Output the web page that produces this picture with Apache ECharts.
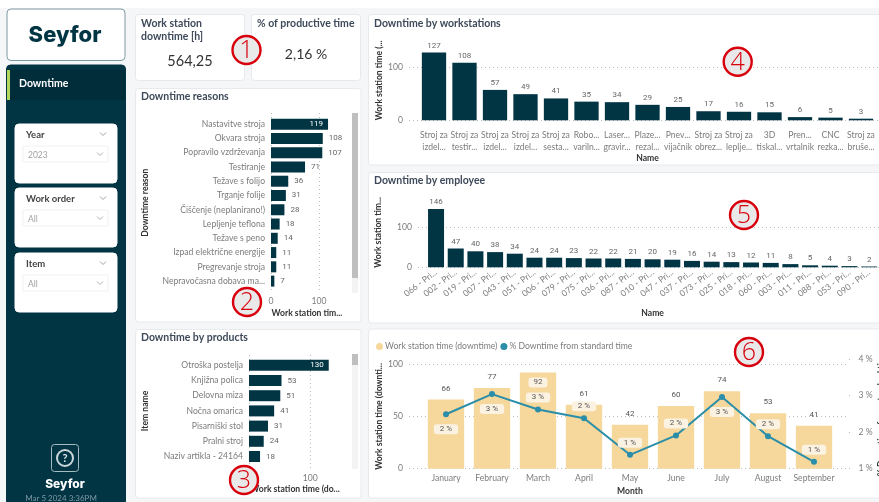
<!DOCTYPE html>
<html>
<head>
<meta charset="utf-8">
<style>html,body{margin:0;padding:0;background:#fff}#main{width:879px;height:502px}</style>
<script src="https://cdn.jsdelivr.net/npm/echarts@6/dist/echarts.min.js"></script>
</head>
<body>
<div id="main"></div>
<script>
var reasonNames = ['Nastavitve stroja','Okvara stroja','Popravilo vzdrževanja','Testiranje','Težave s folijo','Trganje folije','Čiščenje (neplanirano!)','Lepljenje teflona','Težave s peno','Izpad električne energije','Pregrevanje stroja','Nepravočasna dobava ma...'];
var reasonValues = [119,108,107,71,36,31,28,18,14,11,11,7];
var productNames = ['Otroška postelja','Knjižna polica','Delovna miza','Nočna omarica','Pisarniški stol','Pralni stroj','Naziv artikla - 24164'];
var productValues = [130,53,51,41,31,24,18];
var stationNames = ['Stroj za\nizdel...','Stroj za\ntestir...','Stroj za\nizdel...','Stroj za\nizdel...','Stroj za\nsesta...','Robo...\nvariln...','Laser...\ngravir...','Plaze...\nrezal...','Pnev...\nvijačnik','Stroj za\nobrez...','Stroj za\nleplje...','3D\ntiskal...','Pren...\nvrtalnik','CNC\nrezka...','Stroj za\nbruše...'];
var stationValues = [127,108,57,49,41,35,34,29,25,17,16,15,6,5,3];
var employeeNames = ['066 - Pri...','002 - Pri...','019 - Pri...','007 - Pri...','043 - Pri...','051 - Pri...','006 - Pri...','079 - Pri...','075 - Pri...','036 - Pri...','087 - Pri...','010 - Pri...','047 - Pri...','037 - Pri...','073 - Pri...','025 - Pri...','018 - Pri...','060 - Pri...','003 - Pri...','011 - Pri...','088 - Pri...','053 - Pri...','090 - Pri...'];
var employeeValues = [146,47,40,38,34,24,24,23,22,22,21,20,19,16,14,13,12,11,8,5,4,3,2];
var months = ['January','February','March','April','May','June','July','August','September'];
var monthHours = [66,77,92,61,42,60,74,53,41];
var monthPct = [2.49,3.04,2.62,2.38,1.38,1.91,2.96,1.89,1.19];
var pctLabelSide = ['bottom','bottom','top','top','top','top','bottom','top','top'];

var FONT = 'Lato, "Noto Sans", sans-serif';
var NUM = 'Roboto, sans-serif';
var DARK = '#023544';
var GREY = '#7c7c7c';
var TITLE = '#3e4a5a';
var SAND = '#f6d79c';
var TEAL = '#2b8ea9';
var CREAM = '#fbf2e1';
var DOTS = {color: '#bcbcbc', type: [1, 3], width: 1};
var TICK = 8.6;

var grids = [], xAxes = [], yAxes = [], series = [], gfx = [];

function dots() { return {show: true, lineStyle: DOTS, showMaxLine: false}; }
function tickText() { return {color: GREY, fontFamily: FONT, fontSize: TICK, showMaxLabel: false}; }
function axisName() { return {color: '#333', fontFamily: FONT, fontSize: 8.6, fontWeight: 700}; }
function bare(type, extra) {
    return Object.assign({type: type, gridIndex: grids.length - 1, axisLine: {show: false}, axisTick: {show: false}, splitLine: {show: false}, axisLabel: {show: false}}, extra || {});
}

// horizontal bars, the axis and its grid lines sit on a taller grid behind the bars
function hbars(names, values, left, width, top, rowH, lineTop, lineBottom, max, yName, xName, nameX, gapName) {
    grids.push({left: left, width: width, top: lineTop, height: lineBottom - lineTop});
    xAxes.push({type: 'value', gridIndex: grids.length - 1, min: 0, max: max, interval: 100, axisLine: {show: false}, axisTick: {show: false},
        splitLine: dots(), axisLabel: Object.assign(tickText(), {margin: 4}),
        name: xName, nameLocation: 'middle', nameGap: gapName, nameTextStyle: axisName()});
    yAxes.push(bare('category', {data: [''], show: false}));

    grids.push({left: left, width: width, top: top, height: rowH * names.length});
    xAxes.push(bare('value', {min: 0, max: max, show: false}));
    yAxes.push(bare('category', {data: names, inverse: true,
        axisLabel: {show: true, interval: 0, color: GREY, fontFamily: FONT, fontSize: TICK, margin: 6},
        name: yName, nameLocation: 'middle', nameGap: nameX, nameRotate: 90, nameTextStyle: axisName()}));
    series.push({type: 'bar', xAxisIndex: xAxes.length - 1, yAxisIndex: yAxes.length - 1, barWidth: 11, data: values.map(function (v, i) {
        return i === 0
            ? {value: v, label: {position: 'insideRight', color: '#fff', distance: 5}}
            : v;
    }), itemStyle: {color: DARK}, label: {show: true, position: 'right', distance: 6, color: '#666', fontFamily: NUM, fontSize: 8}});
}

// vertical bars, same idea with a wider grid behind
function vbars(names, values, lineLeft, left, step, barW, zeroY, top, max, yName, nameGap, rotate, labelMargin, xNameGap) {
    grids.push({left: lineLeft, width: 900 - lineLeft, top: top, height: zeroY - top});
    xAxes.push(bare('category', {data: [''], show: false}));
    yAxes.push({type: 'value', gridIndex: grids.length - 1, min: 0, max: max, interval: 100, axisLine: {show: false}, axisTick: {show: false},
        splitLine: dots(), axisLabel: Object.assign(tickText(), {margin: 6}),
        name: yName, nameLocation: 'middle', nameGap: nameGap, nameRotate: 90, nameMoveOverlap: false, nameTextStyle: axisName()});

    grids.push({left: left, width: step * names.length, top: top, height: zeroY - top});
    xAxes.push(bare('category', {data: names,
        axisLabel: {show: true, interval: 0, rotate: rotate, color: GREY, fontFamily: FONT, fontSize: TICK, lineHeight: 12, margin: labelMargin},
        name: 'Name', nameLocation: 'middle', nameGap: xNameGap, nameTextStyle: axisName()}));
    yAxes.push(bare('value', {min: 0, max: max, show: false}));
    series.push({type: 'bar', xAxisIndex: xAxes.length - 1, yAxisIndex: yAxes.length - 1, barWidth: barW, data: values,
        itemStyle: {color: DARK}, label: {show: true, position: 'top', distance: 3, color: '#666', fontFamily: NUM, fontSize: 8}});
}

hbars(reasonNames, reasonValues, 271, 71.9, 117, 14.27, 113, 292.5, 150, 'Downtime reason', 'Work station tim...', 121, 16);
hbars(productNames, productValues, 249, 92, 357.7, 15.2, 355, 470, 150, 'Item name', 'Work station time (do...', 99, 15);
vbars(stationNames, stationValues, 409, 418.75, 30.5, 24.3, 120.3, 40.3, 150, 'Work station time (...', 25, 0, 9, 31);
vbars(employeeNames, employeeValues, 418, 426.2, 19.74, 16, 267.3, 197.3, 175, 'Work station tim...', 35, 37, 4, 41);

// combo chart: sand bars on the left scale, line on the right scale
grids.push({left: 409, width: 439, top: 364, height: 104.7});
xAxes.push(bare('category', {data: [''], show: false}));
yAxes.push({type: 'value', gridIndex: grids.length - 1, min: 0, max: 100, interval: 50, axisLine: {show: false}, axisTick: {show: false},
    splitLine: {show: true, lineStyle: DOTS},
    axisLabel: {color: GREY, fontFamily: FONT, fontSize: TICK, margin: 6},
    name: 'Work station time (downti...', nameLocation: 'middle', nameGap: 25, nameRotate: 90, nameMoveOverlap: false, nameTextStyle: axisName()});

grids.push({left: 423, width: 414, top: 364, height: 104.7});
xAxes.push(bare('category', {data: months,
    axisLabel: {show: true, interval: 0, color: GREY, fontFamily: FONT, fontSize: TICK, margin: 5},
    name: 'Month', nameLocation: 'middle', nameGap: 18, nameTextStyle: axisName()}));
yAxes.push(bare('value', {min: 0, max: 100, show: false}));
series.push({name: 'Work station time (downtime)', type: 'bar', xAxisIndex: xAxes.length - 1, yAxisIndex: yAxes.length - 1, barWidth: 36.3,
    itemStyle: {color: SAND},
    data: monthHours.map(function (v) {
        return v > 90 ? {value: v, label: {position: 'insideTop', distance: 5, backgroundColor: CREAM, padding: [1, 5], borderRadius: 3}} : v;
    }),
    label: {show: true, position: 'top', distance: 7, color: '#555', fontFamily: NUM, fontSize: 8}});

grids.push({left: 849, width: 6, top: 359, height: 109.7});
xAxes.push(bare('category', {data: [''], show: false}));
yAxes.push({type: 'value', gridIndex: grids.length - 1, position: 'right', min: 1, max: 4, interval: 1, axisLine: {show: false}, axisTick: {show: false},
    splitLine: {show: true, lineStyle: DOTS},
    axisLabel: {color: GREY, fontFamily: FONT, fontSize: TICK, margin: 8, formatter: '{value} %'},
    name: '% Downtime from standard time', nameLocation: 'middle', nameGap: 23, nameRotate: 90, nameTextStyle: axisName()});

grids.push({left: 423, width: 414, top: 359, height: 109.7});
xAxes.push(bare('category', {data: months, show: false}));
yAxes.push(bare('value', {min: 1, max: 4, show: false}));
series.push({name: '% Downtime from standard time', type: 'line', xAxisIndex: xAxes.length - 1, yAxisIndex: yAxes.length - 1, z: 5,
    symbol: 'circle', symbolSize: 6, lineStyle: {color: TEAL, width: 2}, itemStyle: {color: TEAL},
    data: monthPct.map(function (v, i) {
        return {value: v, label: {position: pctLabelSide[i], distance: pctLabelSide[i] === 'top' ? 4 : 7}};
    }),
    label: {show: true, color: '#555', fontFamily: NUM, fontSize: 8, backgroundColor: CREAM, padding: [1, 6], borderRadius: 3,
        formatter: function (p) { return Math.round(p.value) + ' %'; }}});

// page furniture
function panel(x, y, w, h, fill, stroke, r) {
    gfx.push({type: 'rect', z: -5, shape: {x: x, y: y, width: w, height: h, r: r === undefined ? 3 : r}, style: {fill: fill || '#fff', stroke: stroke || '#e7e9ec', lineWidth: 1}});
}
function label(x, y, text, size, color, weight, align, family) {
    gfx.push({type: 'text', z: 1, x: x, y: y, style: {text: text, fontSize: size, fill: color, fontWeight: weight || 400, fontFamily: family || FONT, textAlign: align || 'left', textVerticalAlign: 'middle'}});
}
function chevron(x, y, w, color) {
    gfx.push({type: 'polyline', z: 1, shape: {points: [[x - w, y - w / 2], [x, y + w / 2], [x + w, y - w / 2]]}, style: {stroke: color, fill: null, lineWidth: 0.8}});
}
function slicer(top, name, value) {
    panel(15, top, 102, 59, '#fff', '#fff', 4);
    label(26, top + 11, name, 9.5, '#444', 700);
    chevron(103, top + 10, 3, '#888');
    panel(23, top + 22, 85, 16, '#fff', '#f1f1f1', 0);
    label(28, top + 31, value, 8.5, '#a0a0a0');
    chevron(100, top + 30, 3, '#999');
}
function marker(x, y, digit) {
    gfx.push({type: 'circle', z: 50, shape: {cx: x, cy: y, r: 14}, style: {fill: '#e9e9e9', stroke: '#d8000c', lineWidth: 2.4}});
    gfx.push({type: 'text', z: 51, x: x, y: y + 1, style: {text: digit, fontSize: 25, fontFamily: '"Open Sans"', fontWeight: 300, fill: '#d8000c', textAlign: 'center', textVerticalAlign: 'middle'}});
}

gfx.push({type: 'rect', z: -6, shape: {x: 0, y: 8, width: 879, height: 494}, style: {fill: '#f5f6f8'}});

panel(7, 9, 118, 51.5, '#fff', '#7d99a2', 4);
label(65, 35, 'Seyfor', 22, DARK, 800, 'center', 'Inter');
panel(6.5, 65, 119, 440, DARK, DARK, 4);
gfx.push({type: 'rect', z: -4, shape: {x: 7, y: 70, width: 118, height: 30}, style: {fill: '#012c3a'}});
gfx.push({type: 'rect', z: -3, shape: {x: 7, y: 70, width: 3, height: 30}, style: {fill: '#b4d85b'}});
label(19, 84, 'Downtime', 10.5, '#fff', 700);
slicer(124, 'Year', '2023');
slicer(188, 'Work order', 'All');
slicer(253, 'Item', 'All');
gfx.push({type: 'rect', z: 1, shape: {x: 51.5, y: 444.5, width: 27, height: 27, r: 3}, style: {fill: 'none', stroke: '#a7bcc2', lineWidth: 1}});
gfx.push({type: 'circle', z: 1, shape: {cx: 65, cy: 458, r: 8}, style: {fill: 'none', stroke: '#c9d6da', lineWidth: 2}});
label(65, 458, '?', 11, '#dfe7ea', 700, 'center');
label(65, 484, 'Seyfor', 12, '#fff', 800, 'center', 'Inter');
label(61, 498, 'Mar 5 2024 3:36PM', 8, '#7e9aa3', 400, 'center');

panel(135.5, 14.5, 109, 66);
panel(251.5, 14.5, 109, 66);
panel(135.5, 88.5, 225.5, 233.5);
panel(135.5, 329.5, 225.5, 168.5);
panel(368.5, 14.5, 540, 150.5);
panel(368.5, 172.5, 540, 150.5);
panel(368.5, 329, 540, 169);

label(141, 23.5, 'Work station', 10.5, TITLE, 700);
label(141, 36.5, 'downtime [h]', 10.5, TITLE, 700);
label(190, 61, '564,25', 14.5, '#333', 400, 'center');
label(257, 23.5, '% of productive time', 10.5, TITLE, 700);
label(306, 54, '2,16 %', 14, '#333', 400, 'center');
label(141, 97, 'Downtime reasons', 10.5, TITLE, 700);
label(141, 338, 'Downtime by products', 10.5, TITLE, 700);
label(374, 23.5, 'Downtime by workstations', 10.5, TITLE, 700);
label(374, 181, 'Downtime by employee', 10.5, TITLE, 700);

// scrollbars
gfx.push({type: 'rect', z: 1, shape: {x: 352, y: 113, width: 6, height: 180}, style: {fill: '#f3f3f3'}});
gfx.push({type: 'rect', z: 1, shape: {x: 352, y: 113, width: 6, height: 165}, style: {fill: '#bfbfbf'}});
gfx.push({type: 'rect', z: 1, shape: {x: 352, y: 354, width: 6, height: 115}, style: {fill: '#f3f3f3'}});
gfx.push({type: 'rect', z: 1, shape: {x: 352, y: 354, width: 6, height: 11}, style: {fill: '#bfbfbf'}});

marker(246.5, 50, '1');
marker(247, 302, '2');
marker(244, 480, '3');
marker(737.7, 61.7, '4');
marker(744, 215, '5');
marker(749, 352, '6');

var myChart = echarts.init(document.getElementById('main'));
var option = {
    animation: false,
    backgroundColor: '#fff',
    legend: {
        left: 371, top: 337, itemWidth: 7, itemHeight: 7, itemGap: 3, icon: 'circle',
        textStyle: {color: GREY, fontFamily: FONT, fontSize: TICK, padding: [0, 0, 0, -3]},
        data: ['Work station time (downtime)', '% Downtime from standard time']
    },
    grid: grids,
    xAxis: xAxes,
    yAxis: yAxes,
    series: series,
    graphic: {elements: gfx}
};
myChart.setOption(option);
window.onresize = myChart.resize;
</script>
</body>
</html>
